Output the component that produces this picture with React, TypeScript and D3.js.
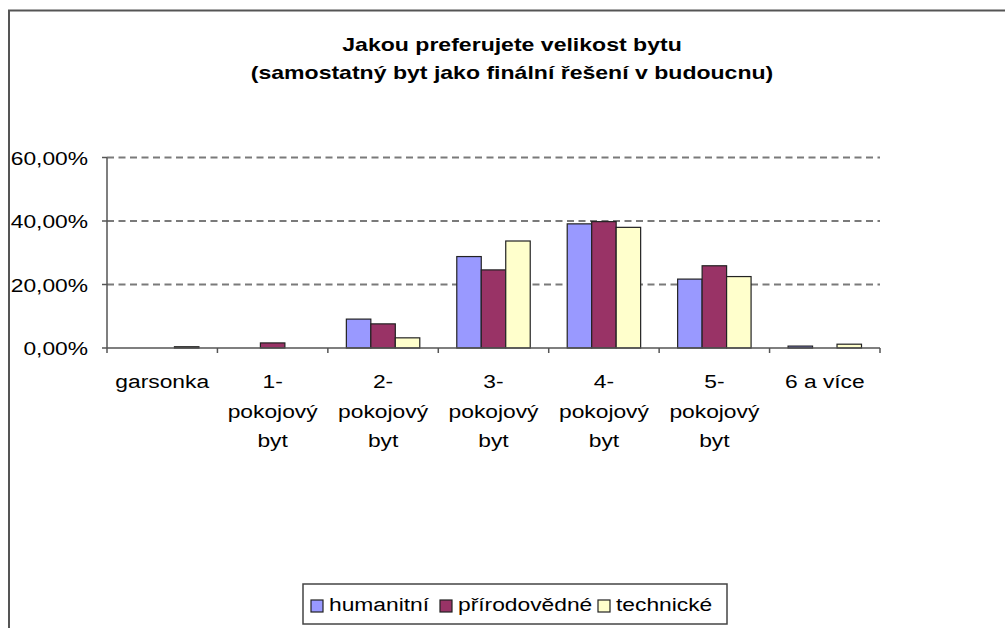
import React from "react";
import * as d3 from "d3";

const categories: string[][] = [
  ["garsonka"],
  ["1-", "pokojový", "byt"],
  ["2-", "pokojový", "byt"],
  ["3-", "pokojový", "byt"],
  ["4-", "pokojový", "byt"],
  ["5-", "pokojový", "byt"],
  ["6 a více"],
];
const seriesNames = ["humanitní", "přírodovědné", "technické"];
const seriesColors = ["#9999FF", "#993366", "#FFFFCC"];
const humanitni = [0, 0, 9.1, 28.8, 39.1, 21.7, 0.6];
const prirodovedne = [0, 1.6, 7.6, 24.6, 39.8, 25.9, 0];
const technicke = [0.4, 0, 3.2, 33.7, 38.0, 22.5, 1.2];
const yTicks = [0, 20, 40, 60];
const titleLines = ["Jakou preferujete velikost bytu", "(samostatný byt jako finální řešení v budoucnu)"];

const FONT = "Arial, 'Liberation Sans', sans-serif";
const SX = 1.2;

export default function App() {
  const W = 1005, H = 628;
  const x0 = 107, x1 = 880, yBase = 348, yTop = 157.5;
  const x = d3.scaleBand<number>().domain(d3.range(categories.length)).range([x0, x1]).paddingInner(0).paddingOuter(0);
  const y = d3.scaleLinear().domain([0, 60]).range([yBase, yTop]);
  const series = [humanitni, prirodovedne, technicke];
  const bw = x.bandwidth();
  const groupW = bw * 0.665;
  const sub = d3.scaleBand<number>().domain([0, 1, 2]).range([0, groupW]);
  const fmt = (v: number) => v.toFixed(2).replace(".", ",") + "%";

  const T = (props: { x: number; y: number; s?: number; anchor?: string; bold?: boolean; size?: number; children: any }) => (
    <text
      transform={`translate(${props.x},${props.y}) scale(${props.s ?? SX},1)`}
      textAnchor={props.anchor ?? "start"}
      fontFamily={FONT}
      fontSize={props.size ?? 19}
      fontWeight={props.bold ? "bold" : "normal"}
      fill="#000"
    >
      {props.children}
    </text>
  );

  return (
    <svg width={W} height={H} style={{ position: "absolute", left: 0, top: 0 }}>
      <rect x={0} y={0} width={W} height={H} fill="#fff" />
      {/* frame */}
      <path d={`M9,${H} V10.5 H${W}`} fill="none" stroke="#555" strokeWidth={2} />
      {/* title */}
      {titleLines.map((t, i) => (
        <T key={i} x={512} y={51 + i * 27.5} anchor="middle" bold size={18.6} s={1.24}>{t}</T>
      ))}
      {/* gridlines */}
      {yTicks.filter((t) => t > 0).map((t) => (
        <line key={t} x1={x0} x2={x1} y1={y(t)} y2={y(t)} stroke="#7a7a7a" strokeWidth={2} strokeDasharray="7,4.5" />
      ))}
      {/* bars */}
      {series.map((vals, si) =>
        vals.map((v, ci) =>
          v > 0 ? (
            <rect
              key={`${si}-${ci}`}
              x={(x(ci) as number) + (bw - groupW) / 2 + (sub(si) as number)}
              y={y(v)}
              width={sub.bandwidth()}
              height={yBase - y(v)}
              fill={seriesColors[si]}
              stroke="#222"
              strokeWidth={1.2}
            />
          ) : null
        )
      )}
      {/* axes */}
      <line x1={x0} x2={x0} y1={yTop} y2={yBase} stroke="#555" strokeWidth={1.5} />
      <line x1={x0} x2={x1} y1={yBase} y2={yBase} stroke="#555" strokeWidth={1.5} />
      {yTicks.map((t) => (
        <g key={t}>
          <line x1={x0 - 5} x2={x0} y1={y(t)} y2={y(t)} stroke="#555" strokeWidth={1.5} />
          <T x={88} y={y(t) + 7} anchor="end">{fmt(t)}</T>
        </g>
      ))}
      {d3.range(categories.length + 1).map((i) => {
        const xx = i < categories.length ? (x(i) as number) : x1;
        return <line key={i} x1={xx} x2={xx} y1={yBase} y2={yBase + 5} stroke="#555" strokeWidth={1.5} />;
      })}
      {categories.map((lines, ci) =>
        lines.map((ln, li) => (
          <T key={`${ci}-${li}`} x={(x(ci) as number) + bw / 2} y={388 + li * 29.5} anchor="middle">{ln}</T>
        ))
      )}
      {/* legend */}
      <rect x={303} y={584} width={424} height={40} fill="#fff" stroke="#444" strokeWidth={1.5} />
      {seriesNames.map((n, i) => {
        const sx = [311, 440, 598][i];
        return (
          <g key={n}>
            <rect x={sx} y={600} width={12} height={12} fill={seriesColors[i]} stroke="#222" strokeWidth={1.2} />
            <T x={sx + 18} y={611}>{n}</T>
          </g>
        );
      })}
    </svg>
  );
}
